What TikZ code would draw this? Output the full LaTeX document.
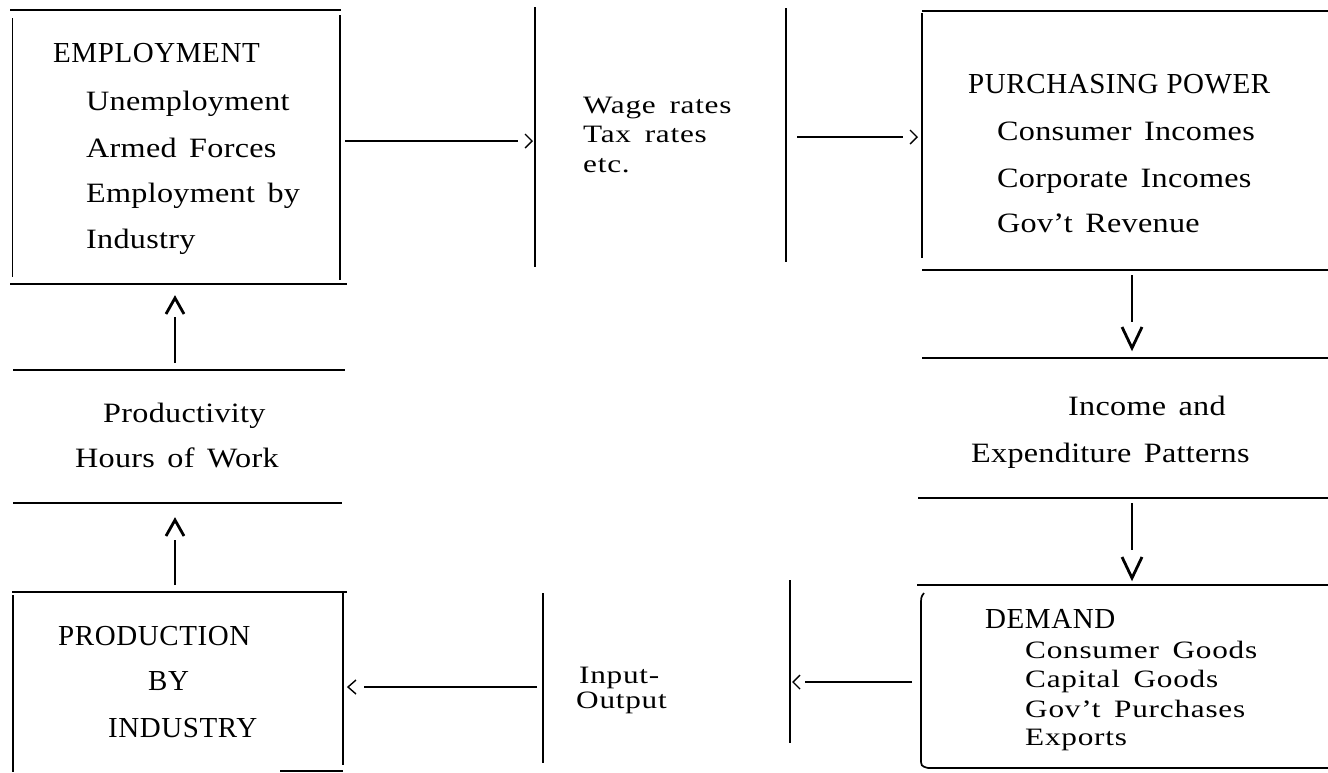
\documentclass[tikz,border=0pt]{standalone}
\usepackage{fontspec}
\setmainfont{Liberation Serif}
\newfontfamily\capfam{Liberation Serif}[LetterSpace=2]
\newfontfamily\lowfam{Liberation Serif}[FakeStretch=1.15,WordSpace=1.5,LetterSpace=1]
\newfontfamily\smfam{Liberation Serif}[FakeStretch=1.25,WordSpace=1.6,LetterSpace=3]
\begin{document}
\begin{tikzpicture}[x=1pt,y=-1pt,
  rule/.style={line width=1.7pt, line cap=butt},
  shaft/.style={line width=1.8pt},
  chev/.style={line width=1.4pt, line join=miter},
  bigchev/.style={line width=2.8pt, line join=miter},
  captxt/.style={anchor=base west, inner sep=0pt, font=\capfam\fontsize{29}{29}\selectfont},
  lowtxt/.style={anchor=base west, inner sep=0pt, font=\lowfam\fontsize{28}{28}\selectfont},
  smltxt/.style={anchor=base west, inner sep=0pt, font=\smfam\fontsize{25}{25}\selectfont}]
\fill[white] (0,0) rectangle (1328,772);
\useasboundingbox (0,0) rectangle (1328,772);

% ---------- EMPLOYMENT box ----------
\draw[rule] (10,10) -- (341,10);
\draw[rule] (12.5,18) -- (12.5,277);
\draw[rule] (340,15) -- (340,280);
\draw[rule] (10,284) -- (347,284);
\node[captxt] (emp) at (53,62) {EMPLOYMENT};
\node[lowtxt] (emp1) at (86,110) {Unemployment};
\node[lowtxt] (emp2) at (86,157) {Armed Forces};
\node[lowtxt] (emp3) at (86,202) {Employment by};
\node[lowtxt] (emp4) at (86,248) {Industry};

% ---------- Wage rates band ----------
\draw[rule] (535,7) -- (535,267);
\draw[rule] (786,8) -- (786,262);
\node[smltxt] (w1) at (583,113) {Wage rates};
\node[smltxt] (w2) at (583,142) {Tax rates};
\node[smltxt] (w3) at (583,172) {etc.};

% ---------- PURCHASING POWER box ----------
\draw[rule] (922,11) -- (1328,11);
\draw[rule] (922,13) -- (922,258);
\draw[rule] (922,270) -- (1328,270);
\node[captxt] (pp) at (968,93) {PURCHASING POWER};
\node[lowtxt] (pp1) at (997,140) {Consumer Incomes};
\node[lowtxt] (pp2) at (997,187) {Corporate Incomes};
\node[lowtxt] (pp3) at (997,232) {Gov’t Revenue};

% ---------- Income and Expenditure band ----------
\draw[rule] (922,358) -- (1328,358);
\draw[rule] (918,498) -- (1328,498);
\node[lowtxt] (ie1) at (1068,415) {Income and};
\node[lowtxt] (ie2) at (971,462) {Expenditure Patterns};

% ---------- DEMAND box ----------
\draw[rule] (917,585) -- (1328,585);
\draw[rule] (924,593) .. controls (921,597) .. (921,606) -- (921,758)
  .. controls (921,766) .. (928,768) -- (1328,768);
\node[captxt] (dem) at (985,628) {DEMAND};
\node[smltxt] (dem1) at (1025,658) {Consumer Goods};
\node[smltxt] (dem2) at (1025,687) {Capital Goods};
\node[smltxt] (dem3) at (1025,717) {Gov’t Purchases};
\node[smltxt] (dem4) at (1025,745) {Exports};

% ---------- Input-Output band ----------
\draw[rule] (790,580) -- (790,743);
\draw[rule] (543,593) -- (543,763);
\node[smltxt] (io1) at (579,683) {Input-};
\node[smltxt] (io2) at (576,708) {Output};

% ---------- PRODUCTION box ----------
\draw[rule] (12,592) -- (347,592);
\draw[rule] (13,595) -- (13,772);
\draw[rule] (343,592) -- (343,765);
\draw[rule] (280,771) -- (343,771);
\node[captxt] (pr1) at (58,645) {PRODUCTION};
\node[captxt] (pr2) at (148,690) {BY};
\node[captxt] (pr3) at (108,737) {INDUSTRY};

% ---------- Productivity band ----------
\draw[rule] (13,370) -- (345,370);
\draw[rule] (13,503) -- (342,503);
\node[lowtxt] (pd1) at (103,422) {Productivity};
\node[lowtxt] (pd2) at (75,467) {Hours of Work};

% ---------- connectors ----------
\coordinate (a1s) at (345,141); \coordinate (a1e) at (518,141); \coordinate (a1t) at (532,141);
\coordinate (a2s) at (797,137); \coordinate (a2e) at (903,137); \coordinate (a2t) at (917,137);
\coordinate (a3s) at (912,682); \coordinate (a3e) at (805,682); \coordinate (a3t) at (793,682);
\coordinate (a4s) at (537,687); \coordinate (a4e) at (364,687); \coordinate (a4t) at (348,687);
\coordinate (u1s) at (175,363); \coordinate (u1e) at (175,317); \coordinate (u1t) at (175,298);
\coordinate (u2s) at (175,585); \coordinate (u2e) at (175,540); \coordinate (u2t) at (175,520);
\coordinate (d1s) at (1132,275); \coordinate (d1e) at (1132,322); \coordinate (d1t) at (1132,348);
\coordinate (d2s) at (1132,503); \coordinate (d2e) at (1132,550); \coordinate (d2t) at (1132,578);

\draw[shaft] (a1s) -- (a1e);
\draw[chev] (a1t) ++(-7,-7) -- (a1t) -- ++(-7,7);
\draw[shaft] (a2s) -- (a2e);
\draw[chev] (a2t) ++(-7,-7) -- (a2t) -- ++(-7,7);
\draw[shaft] (a3s) -- (a3e);
\draw[chev] (a3t) ++(7,-7) -- (a3t) -- ++(7,7);
\draw[shaft] (a4s) -- (a4e);
\draw[chev] (a4t) ++(8,-7) -- (a4t) -- ++(8,7);

\draw[shaft, line width=1.5pt] (u1s) -- (u1e);
\draw[bigchev] (u1t) ++(-9,16) -- (u1t) -- ++(9,16);
\draw[shaft, line width=1.5pt] (u2s) -- (u2e);
\draw[bigchev] (u2t) ++(-9,16) -- (u2t) -- ++(9,16);
\draw[shaft, line width=1.5pt] (d1s) -- (d1e);
\draw[bigchev] (d1t) ++(-10,-21) -- (d1t) -- ++(10,-21);
\draw[shaft, line width=1.5pt] (d2s) -- (d2e);
\draw[bigchev] (d2t) ++(-10,-21) -- (d2t) -- ++(10,-21);
\end{tikzpicture}
\end{document}
